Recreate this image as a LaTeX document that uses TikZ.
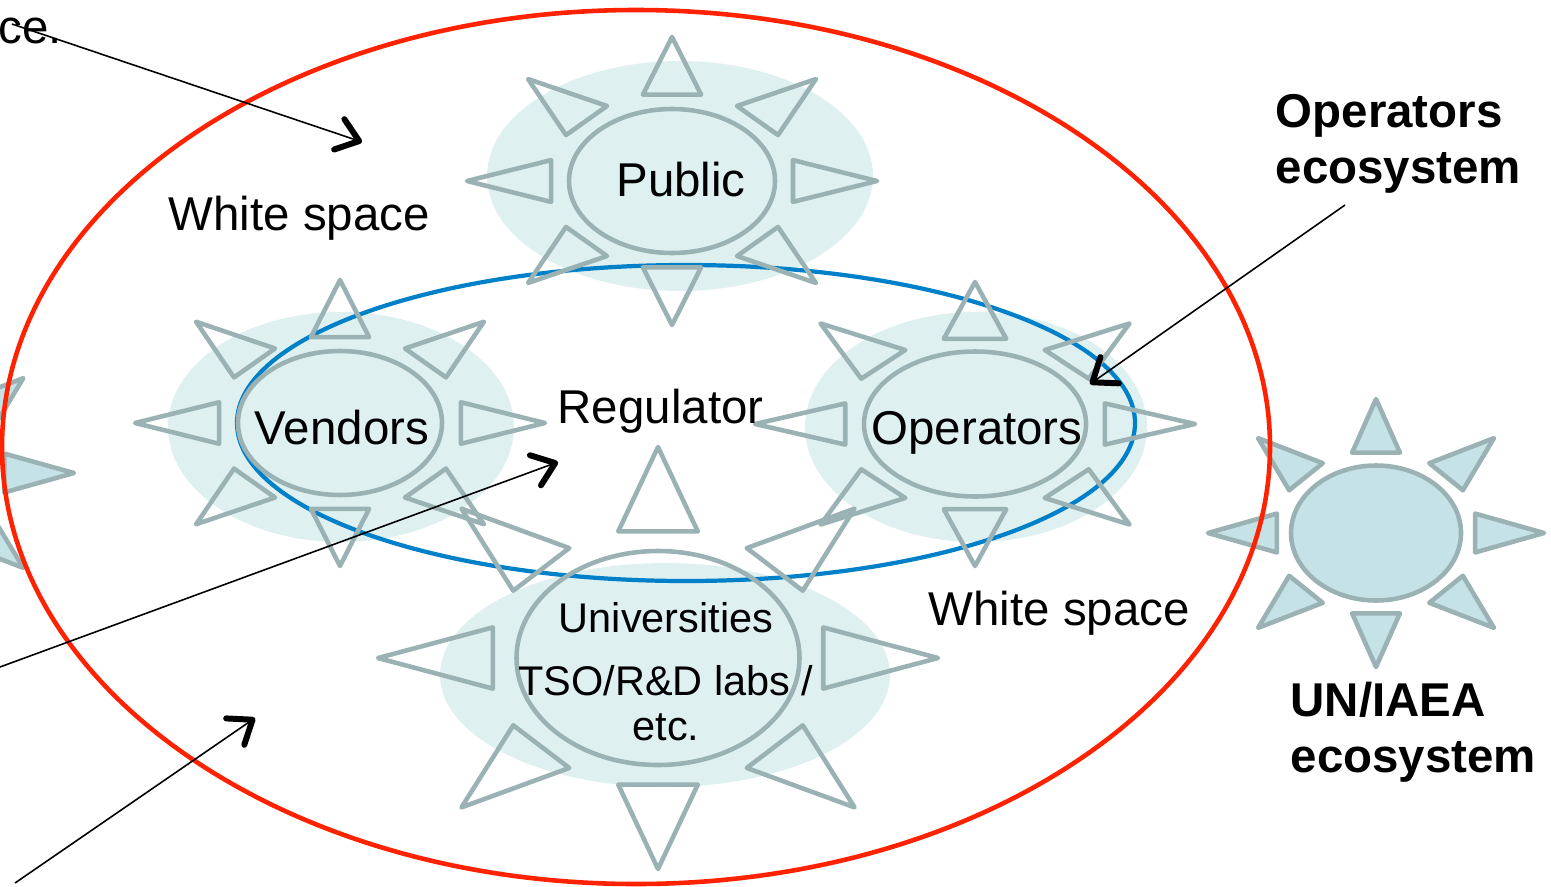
\documentclass[tikz,border=0pt]{standalone}
\usepackage{fontspec}
\setmainfont{Liberation Sans}
\usetikzlibrary{shapes.geometric,arrows.meta}

\definecolor{raygray}{RGB}{155,178,181}
\definecolor{halocol}{RGB}{223,240,240}
\definecolor{sunfill}{RGB}{197,227,230}
\definecolor{ringblue}{RGB}{0,128,200}
\definecolor{ringred}{RGB}{255,34,0}

\tikzset{
  rayfill/.style={},
  ray/.style={draw=raygray, line width=1.3pt, line join=round, rayfill},
  core/.style={ellipse, draw=raygray, line width=1.3pt, inner sep=0pt},
  lbl/.style={font=\fontsize{13.5}{16}\selectfont, inner sep=0pt},
  eco/.style={font=\fontsize{13.5}{15.9}\selectfont\bfseries, inner sep=0pt, align=left},
  ptr/.style={line width=0.45pt, -{Straight Barb[length=2.1mm,width=3.2mm,line width=1.7pt,round]}},
  % eight triangles round a unit sun
  pics/sunrays/.style={code={
    \foreach \sx in {1,-1} {
      \draw[ray,yscale=\sx] (0,1) -- (0.142,0.6) -- (-0.142,0.6) -- cycle;
      \draw[ray,xscale=\sx] (1,0) -- (0.59,0.145) -- (0.59,-0.145) -- cycle;
      \foreach \sy in {1,-1}
        \draw[ray,xscale=\sx,yscale=\sy] (0.702,0.708) -- (0.317,0.521) -- (0.517,0.319) -- cycle;
    }
  }}
}

\begin{document}
\begin{tikzpicture}
	\useasboundingbox (0,0) rectangle (15.51,-8.86);
	\clip (0,0) rectangle (15.51,-8.86);

	% glow behind the inner suns
	\fill[halocol] (6.80,-1.76) ellipse [x radius=1.93, y radius=1.15];
	\fill[halocol] (3.41,-4.27) ellipse [x radius=1.73, y radius=1.15];
	\fill[halocol] (9.76,-4.27) ellipse [x radius=1.71, y radius=1.15];
	\fill[halocol] (6.65,-6.75) ellipse [x radius=2.25, y radius=1.12];

	% outside ecosystems
	\pic[xscale=1.68, yscale=1.34, rayfill/.style={fill=sunfill}] at (13.76,-5.33) {sunrays};
	\node[core, fill=sunfill, minimum width=1.70cm, minimum height=1.35cm] (unsun) at (13.76,-5.33) {};
	\pic[xscale=1.70, yscale=1.34, rayfill/.style={fill=sunfill}] at (-0.96,-4.73) {sunrays};
	\node[core, fill=sunfill, minimum width=1.70cm, minimum height=1.34cm] (edgesun) at (-0.96,-4.73) {};

	% regulator ring and operators ecosystem
	\draw[ringblue, line width=1.2pt] (6.86,-4.23) ellipse [x radius=4.49, y radius=1.58];
	\draw[ringred, line width=1.3pt] (6.36,-4.47) ellipse [x radius=6.34, y radius=4.37];

	\pic[xscale=2.05, yscale=1.44] at (6.72,-1.81) {sunrays};
	\node[core, minimum width=2.06cm, minimum height=1.44cm] (public) at (6.72,-1.81) {};
	\pic[xscale=2.05, yscale=1.43] at (3.40,-4.23) {sunrays};
	\node[core, minimum width=2.04cm, minimum height=1.44cm] (vendors) at (3.40,-4.23) {};
	\pic[xscale=2.20, yscale=1.42] at (9.75,-4.24) {sunrays};
	\node[core, minimum width=2.22cm, minimum height=1.45cm] (operators) at (9.75,-4.24) {};
	\pic[xscale=2.80, yscale=2.11] at (6.58,-6.58) {sunrays};
	\node[core, minimum width=2.83cm, minimum height=2.14cm] (univ) at (6.58,-6.58) {};

	\node[lbl, anchor=base] (publbl) at (6.81,-1.96) {Public};
	\node[lbl, anchor=base] (vendlbl) at (3.42,-4.44) {Vendors};
	\node[lbl, anchor=base] (oplbl) at (9.77,-4.44) {Operators};
	\node[font=\fontsize{11.8}{12.8}\selectfont, inner sep=0pt, align=center, anchor=base] (univlbl) at (6.66,-7.40) {Universities\\[0.18cm]TSO/R\&D labs /\\etc.};

	\node[lbl, anchor=base west] (regulator) at (5.57,-4.23) {Regulator};
	\node[lbl, anchor=base west] (ws1) at (1.68,-2.30) {White space};
	\node[lbl, anchor=base west] (ws2) at (9.28,-6.25) {White space};
	\node[lbl, anchor=base west] (spc) at (-0.02,-0.43) {ce.};
	\node[eco, anchor=base west] (opeco) at (12.75,-1.83) {Operators\\ecosystem};
	\node[eco, anchor=base west] (uneco) at (12.90,-7.72) {UN/IAEA\\ecosystem};

	% pointers
	\coordinate (p1) at (0.12,-0.24);
	\coordinate (q1) at (3.62,-1.42);
	\coordinate (p2) at (0,-6.67);
	\coordinate (q2) at (5.58,-4.62);
	\coordinate (p3) at (0.15,-8.83);
	\coordinate (q3) at (2.55,-7.18);
	\coordinate (p4) at (13.45,-2.05);
	\coordinate (q4) at (10.90,-3.84);
	\draw[ptr] (p1) -- (q1);
	\draw[ptr] (p2) -- (q2);
	\draw[ptr] (p3) -- (q3);
	\draw[ptr] (p4) -- (q4);
\end{tikzpicture}
\end{document}
